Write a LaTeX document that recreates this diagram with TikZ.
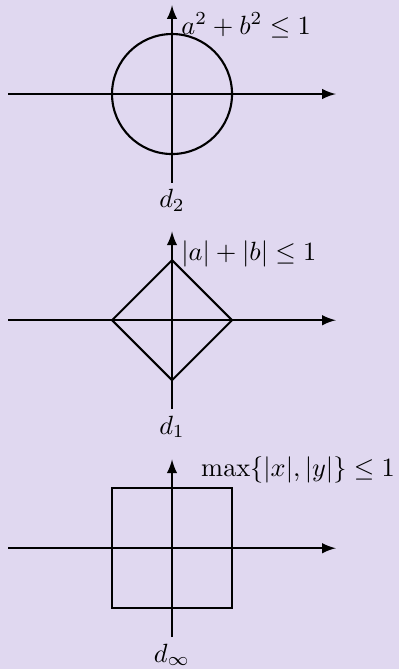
\documentclass[tikz,border=0pt]{standalone}
\usetikzlibrary{arrows, positioning}
\definecolor{blockbg}{RGB}{224,216,240}

\begin{document}
\begin{tikzpicture}[
    x=0.8cm,
    y=0.8cm,
    axis/.style={-latex, thick},
    ball/.style={thick},
    cond/.style={anchor=base west},
    normname/.style={below=-1pt of #1}
]

    % Background
    \fill[blockbg] (-2.867,1.567) rectangle (3.783,-9.583);
    \useasboundingbox (-2.867,1.567) rectangle (3.783,-9.583);

    % Euclidean ball
    \begin{scope}[shift={(0,0)}]
        \coordinate (twoW) at (-2.73,0);
        \coordinate (twoE) at (2.73,0);
        \coordinate (twoS) at (0,-1.48);
        \coordinate (twoN) at (0,1.48);
        \draw[axis] (twoW) -- (twoE);
        \draw[axis] (twoS) -- (twoN);
        \draw[ball] (0,0) circle (1);
        \node[cond] (twoCond) at (0,1) {$a^2 + b^2 \leq 1$};
        \node[normname=twoS] (twoName) {$d_2$};
    \end{scope}

    % Taxicab ball
    \begin{scope}[shift={(0,-3.77)}]
        \coordinate (oneW) at (-2.73,0);
        \coordinate (oneE) at (2.73,0);
        \coordinate (oneS) at (0,-1.48);
        \coordinate (oneN) at (0,1.48);
        \draw[axis] (oneW) -- (oneE);
        \draw[axis] (oneS) -- (oneN);
        \draw[ball] (0,1) -- (1,0) -- (0,-1) -- (-1,0) -- cycle;
        \node[cond] (oneCond) at (0,1) {$|a| + |b| \leq 1$};
        \node[normname=oneS] (oneName) {$d_1$};
    \end{scope}

    % Max ball
    \begin{scope}[shift={(0,-7.57)}]
        \coordinate (infW) at (-2.73,0);
        \coordinate (infE) at (2.73,0);
        \coordinate (infS) at (0,-1.48);
        \coordinate (infN) at (0,1.48);
        \draw[axis] (infW) -- (infE);
        \draw[axis] (infS) -- (infN);
        \draw[ball] (-1,-1) rectangle (1,1);
        \node[cond] (infCond) at (0.33,1.2) {$\max\{|x|,|y|\} \leq 1$};
        \node[normname=infS] (infName) {$d_\infty$};
    \end{scope}

\end{tikzpicture}
\end{document}
